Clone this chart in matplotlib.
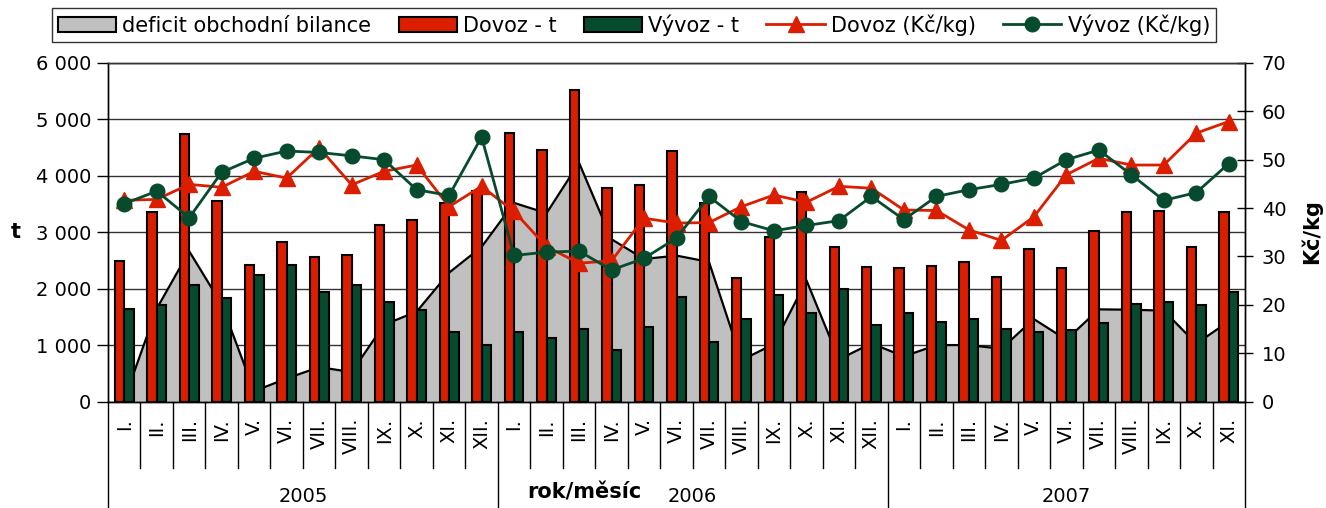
import numpy as np
import matplotlib.pyplot as plt
import matplotlib.transforms as mtransforms
from matplotlib.lines import Line2D
from matplotlib.patches import Patch

# ---------- data ----------
months = ["I.", "II.", "III.", "IV.", "V.", "VI.", "VII.", "VIII.", "IX.", "X.", "XI.", "XII."]
month_labels = months + months + months[:11]
years = ["2005", "2006", "2007"]
year_months = [12, 12, 11]

dovoz_t = [2497, 3361, 4734, 3550, 2420, 2828, 2556, 2592, 3130, 3219, 3515, 3734,
           4757, 4462, 5515, 3787, 3840, 4444, 3527, 2189, 2911, 3722, 2746, 2391,
           2361, 2408, 2467, 2213, 2698, 2361, 3018, 3355, 3379, 2734, 3361]
vyvoz_t = [1645, 1716, 2071, 1828, 2237, 2420, 1947, 2071, 1769, 1627, 1231, 994,
           1237, 1124, 1284, 911, 1314, 1858, 1053, 1456, 1893, 1574, 2000, 1361,
           1562, 1408, 1467, 1278, 1237, 1266, 1385, 1728, 1769, 1710, 1941]
deficit = [30, 1645, 2663, 1722, 183, 408, 609, 521, 1361, 1592, 2284, 2740,
           3520, 3338, 4231, 2876, 2526, 2586, 2474, 733, 1018, 2148, 746, 1030,
           799, 1000, 1000, 935, 1461, 1095, 1633, 1627, 1610, 1024, 1420]
dovoz_kc = [41.6, 41.8, 44.9, 44.3, 47.6, 46.2, 52.5, 44.8, 47.6, 48.9, 40.3, 44.5,
            39.3, 32.0, 28.6, 29.1, 37.9, 36.9, 37.0, 40.3, 42.7, 41.2, 44.5, 44.1,
            39.6, 39.5, 35.5, 33.3, 38.2, 46.9, 50.3, 48.9, 48.9, 55.5, 57.9]
vyvoz_kc = [40.9, 43.5, 38.0, 47.4, 50.3, 51.8, 51.5, 50.8, 50.0, 43.8, 42.6, 54.7,
            30.2, 30.9, 31.1, 27.2, 29.6, 33.8, 42.4, 37.2, 35.3, 36.4, 37.4, 42.4,
            37.6, 42.4, 43.8, 44.9, 46.2, 50.0, 52.0, 46.9, 41.6, 43.2, 49.2]

RED = "#DC1E00"
GREEN = "#064B2E"
GRAY = "#C0C0C0"

W, H = 1326, 508
FS = 14

def fx(px):
    return px / W

def fy(py):
    return 1 - py / H

fig = plt.figure(figsize=(W / 100, H / 100), dpi=100)
ax = fig.add_axes([fx(108), fy(401.5), (1245 - 108) / W, (401.5 - 63) / H])
ax2 = ax.twinx()

x = np.arange(len(month_labels))

# area + bars on left axis
ax.fill_between(x, 0, deficit, color=GRAY, zorder=1, linewidth=0)
ax.plot(x, deficit, color="black", lw=1.6, zorder=1.5)
bw = 0.29
ax.bar(x - bw / 2, dovoz_t, width=bw, color=RED, edgecolor="black", linewidth=1.5, zorder=2)
ax.bar(x + bw / 2, vyvoz_t, width=bw, color=GREEN, edgecolor="black", linewidth=1.5, zorder=2)

ax.set_xlim(-0.5, len(x) - 0.5)
ax.set_ylim(0, 6000)
ax.set_yticks(range(0, 6001, 1000))
ax.set_yticklabels([f"{v:,}".replace(",", " ") for v in range(0, 6001, 1000)])
ax.yaxis.grid(True, color="#333333", lw=1)
ax.set_axisbelow(True)
ax.set_xticks([])
ax.tick_params(axis="y", labelsize=FS, length=8, width=1, direction="out", pad=4)

# price lines on right axis
ax2.plot(x, dovoz_kc, color=RED, lw=2, marker="^", markersize=11, zorder=3)
ax2.plot(x, vyvoz_kc, color=GREEN, lw=2, marker="o", markersize=10.5, zorder=4)
ax2.set_ylim(0, 70)
ax2.set_yticks(range(0, 71, 10))
ax2.tick_params(axis="y", labelsize=FS, length=12, width=1, direction="inout", pad=6)

for a in (ax, ax2):
    for s in a.spines.values():
        s.set_color("black")
        s.set_linewidth(1)
    a.spines["top"].set_color("#333333")

fig.text(fx(16), fy(232), "t", fontsize=FS + 1, fontweight="bold",
         ha="center", va="center")
fig.text(fx(1311), fy(232), "Kč/kg", fontsize=FS + 1, fontweight="bold",
         rotation=90, ha="center", va="center")

# multi-level category axis
tr = mtransforms.blended_transform_factory(ax.transData, fig.transFigure)
bounds = np.cumsum([0] + year_months) - 0.5
for k in range(len(x) + 1):
    xb = k - 0.5
    y_end = 0 if xb in bounds else fy(468)
    ax.plot([xb, xb], [fy(401.5), y_end], color="black", lw=1,
            transform=tr, clip_on=False)
for i, lab in enumerate(month_labels):
    ax.text(i, fy(418), lab, transform=tr, rotation=90, ha="center", va="top",
            fontsize=FS)
for i, yr in enumerate(years):
    xc = (bounds[i] + bounds[i + 1]) / 2
    ax.text(xc, fy(497), yr, transform=tr, ha="center", va="center", fontsize=FS)
fig.text(fx(584), fy(493), "rok/měsíc", fontsize=FS + 1, fontweight="bold",
         ha="center", va="center")

# legend
handles = [
    Patch(facecolor=GRAY, edgecolor="black", linewidth=1.5),
    Patch(facecolor=RED, edgecolor="black", linewidth=1.5),
    Patch(facecolor=GREEN, edgecolor="black", linewidth=1.5),
    Line2D([], [], color=RED, lw=2, marker="^", markersize=11),
    Line2D([], [], color=GREEN, lw=2, marker="o", markersize=10.5),
]
labels = ["deficit obchodní bilance", "Dovoz - t", "Vývoz - t",
          "Dovoz (Kč/kg)", "Vývoz (Kč/kg)"]
leg = fig.legend(handles, labels, ncol=5, loc="upper center",
                 bbox_to_anchor=(fx(634), fy(8)), fontsize=15, frameon=True,
                 fancybox=False, edgecolor="black", handlelength=2.8,
                 handletextpad=0.3, columnspacing=1.3, borderpad=0.3,
                 borderaxespad=0)
leg.get_frame().set_linewidth(1)

fig.savefig("out.png", dpi=100)
